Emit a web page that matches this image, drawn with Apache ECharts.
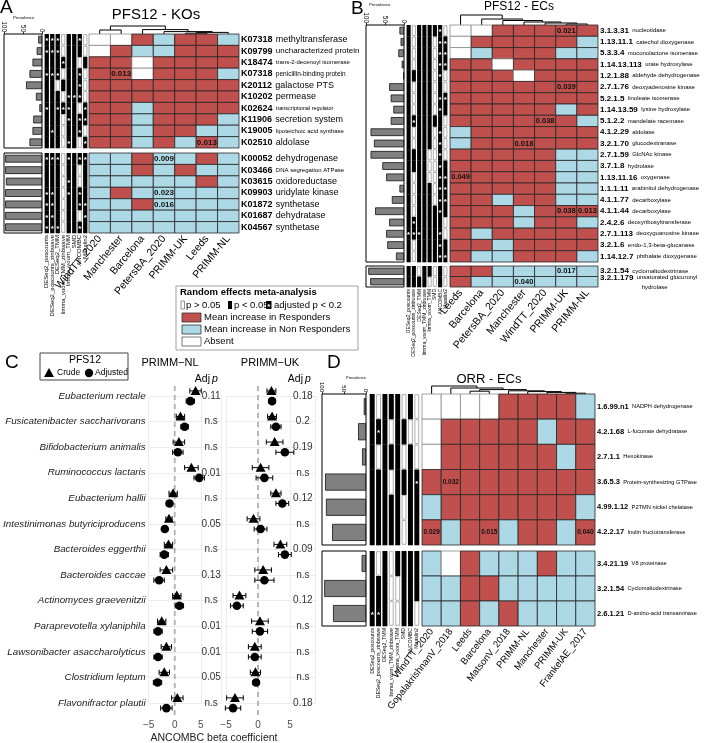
<!DOCTYPE html>
<html><head><meta charset="utf-8">
<script src="https://cdn.jsdelivr.net/npm/echarts@6/dist/echarts.min.js"></script>
<style>html,body{margin:0;padding:0;background:#fff}#c{width:706px;height:743px}</style>
</head><body><div id="c"></div>
<script>
// ===================== DATA =====================
const methods = ['DESeq2_poscounts','DESeq2_poscounts_zinbwave','DESeq2_TMM','limma_voom_TMM_zinbwave','limma_voom_TMM','SMD','ANCOMBC','Maaslin2'];

// ---- Panel A : PFS12 - KOs ----
const A_cols = ['WindTT_2020','Manchester','Barcelona','PetersBA_2020','PRIMM-UK','Leeds','PRIMM-NL'];
const A_ids_top = ['K07318','K09799','K18474','K07318','K20112','K10202','K02624','K11906','K19005','K02510'];
const A_names_top = ['methyltransferase','uncharacterized protein','trans-2-decenoyl isomerase','penicillin-binding protein','galactose PTS','permease','transcriptional regulator','secretion system','lipoteichoic acid synthase','aldolase'];
const A_ids_bot = ['K00052','K03466','K03615','K09903','K01872','K01687','K04567'];
const A_names_bot = ['dehydrogenase','DNA segregation ATPase','oxidoreductase','uridylate kinase','synthetase','dehydratase','synthetase'];
const A_cells_top = ['WWRBRRB','WRBBRRR','RRWRRRR','RRWRRRB','RRRRRRR','RRRRRRR','RRBRRRR','RRBRRRB','RRBRRBB','RRBRBRB'];
const A_cells_bot = ['BBRBBRB','BBRBRBB','BBBBBRB','BRBBBBB','BBRBBBB','BBBBBBB','BBBBBBB'];
const A_p_top = [[3,1,'0.013'],[9,5,'0.013']];
const A_p_bot = [[0,3,'0.009'],[3,3,'0.023'],[4,3,'0.016']];
const A_prev_top = [10,14,25,33,42,16,7,23,25,33];
const A_prev_bot = [97,97,95,97,97,97,97];
const A_meth_top = ['22201120','22201110','11121101','22201120','11011120','11102220','21222102','11102122','12101120','11102102'];
const A_meth_bot = ['22202122','11101101','11102101','22102121','22101122','22101102','22201121'];
const A_dendro = [[-5,-6,0.1],[-7,1,0.2],[-4,2,0.3],[-1,-2,0.5],[-3,3,0.55],[4,5,1.0]];

// ---- Panel B : PFS12 - ECs ----
const B_cols = ['Leeds','Barcelona','PetersBA_2020','Manchester','WindTT_2020','PRIMM-UK','PRIMM-NL'];
const B_ids_top = ['3.1.3.31','1.13.11.1','5.3.3.4','1.14.13.113','1.2.1.88','2.7.1.76','5.2.1.5','1.14.13.59','5.1.2.2','4.1.2.29','3.2.1.70','2.7.1.59','3.7.1.8','1.13.11.16','1.1.1.11','4.1.1.77','4.1.1.44','2.4.2.6','2.7.1.113','3.2.1.6','1.14.12.7'];
const B_names_top = ['nucleotidase','catechol dioxygenase','muconolactone isomerase','urate hydroxylase','aldehyde dehydrogenase','deoxyadenosine kinase','linoleate isomerase','lysine hydroxylase','mandelate racemase','aldolase','glucodextranase','GlcNAc kinase','hydrolase','oxygenase','arabinitol dehydrogenase','decarboxylase','decarboxylase','deoxyribosyltransferase','deoxyguanosine kinase','endo-1,3-beta-glucanase','phthalate dioxygenase'];
const B_ids_bot = ['3.2.1.54','3.2.1.179'];
const B_names_bot = ['cyclomaltodextrinase','unsaturated glucuronyl\nhydrolase'];
const B_cells_top = ['WWRRRRR','WRRRRRB','WBRRRBB','RRWRRRR','RRRWRRR','RRRRRRR','RRRRRRR','RRRRRBR','RRRRRRB','BRRRRRR','BRRRRRR','RRRRRBB','RRRRRBB','RRRRRBB','RRRRRBB','RRBRRBB','RRRBRRR','RRRBRRB','RBRRRRR','RRBRRRR','RBBRRRB'];
const B_cells_bot = ['RRBBBBB','RBBBBBB'];
const B_p_top = [[0,5,'0.021'],[5,5,'0.039'],[8,4,'0.038'],[10,3,'0.018'],[13,0,'0.049'],[16,5,'0.038'],[16,6,'0.013']];
const B_p_bot = [[0,5,'0.017'],[1,3,'0.040']];
const B_prev_top = [12,9,15,6,2,39,35,28,35,88,79,88,57,47,12,32,76,39,47,44,21];
const B_prev_bot = [94,89];
const B_meth_top = ['10111120','10111022','10111022','10111022','11111020','10111010','10111022','10111021','12111110','10111020','10111020','11110020','11110021','10110022','10111022','10111022','10111121','12111110','22211120','10111121','10111122'];
const B_meth_bot = ['11011010','11110010'];
const B_dendro = [[-6,-7,0.1],[-5,1,0.2],[-4,2,0.3],[-3,3,0.45],[-2,4,0.6],[-1,5,1.0]];

// ---- Panel D : ORR - ECs ----
const D_cols = ['WindTT_2020','GopalakrishnanV_2018','Leeds','Barcelona','MatsonV_2018','PRIMM-NL','Manchester','PRIMM-UK','FrankelAE_2017'];
const D_ids_top = ['1.6.99.n1','4.2.1.68','2.7.1.1','3.6.5.3','4.99.1.12','4.2.2.17'];
const D_names_top = ['NADPH dehydrogenase','L-fuconate dehydratase','Hexokinase','Protein-synthesizing GTPase','P2TMN nickel chelatase','Inulin fructotransferase'];
const D_ids_bot = ['3.4.21.19','3.2.1.54','2.6.1.21'];
const D_names_bot = ['V8 proteinase','Cyclomaltodextrinase','D-amino-acid transaminase'];
const D_cells_top = ['WWWWRRRRB','WRRRRRBRR','WRRRRRRBR','RRRRRRRRR','BRRRRRRRB','RBRRBRRBR'];
const D_cells_bot = ['BWRBBBRBB','BBRRBBBBB','BBRBRBBBB'];
const D_p_top = [[3,1,'0.032'],[5,0,'0.029'],[5,3,'0.015'],[5,8,'0.040']];
const D_p_bot = [];
const D_prev_top = [5,18,9,93,91,77];
const D_prev_bot = [10,95,75];
const D_meth_top = ['10111010','12101100','10111010','11101112','11111011','11111011'];
const D_meth_bot = ['10101111','11100111','22100110'];
const D_dendro = [[-8,-9,0.1],[-7,1,0.2],[-6,2,0.3],[-5,3,0.4],[-3,-4,0.35],[5,4,0.55],[-2,6,0.75],[-1,7,1.0]];

// ---- Panel C : forest plots ----
const species = ['Eubacterium rectale','Fusicatenibacter saccharivorans','Bifidobacterium animalis','Ruminococcus lactaris','Eubacterium hallii','Intestinimonas butyriciproducens','Bacteroides eggerthii','Bacteroides caccae','Actinomyces graevenitzii','Paraprevotella xylaniphila','Lawsonibacter asaccharolyticus','Clostridium leptum','Flavonifractor plautii'];
const NL_crude     = [4.0, 1.1, 0.8, 3.2,-0.3,-1.1,-1.2,-1.6, 0.4,-2.5,-1.6,-2.0, 0.5];
const NL_crude_err = [1.1, 0.8, 1.1, 1.3, 0.8, 0.6, 0.8, 1.2, 0.8, 0.8, 1.0, 1.0, 1.1];
const NL_adj       = [3.0, 1.9, 0.6, 4.7,-1.0,-1.9,-2.0,-3.0, 0.9,-3.2,-3.2,-3.3,-1.6];
const NL_adj_err   = [0.8, 0.7, 1.0, 1.0, 0.6, 0.5, 0.8, 1.0, 0.8, 0.8, 0.8, 0.8, 1.1];
const UK_crude     = [2.1, 2.2, 2.6, 0.4, 2.8,-0.7, 3.5, 0.8,-2.9, 0.3,-0.5,-0.4,-3.6];
const UK_crude_err = [0.7, 0.7, 1.3, 1.3, 0.8, 1.0, 1.0, 1.3, 1.0, 1.3, 1.0, 0.8, 1.3];
const UK_adj       = [2.2, 2.8, 4.2, 1.0, 3.8, 0.4, 4.2, 1.0,-3.3, 0.3,-0.5,-0.3,-3.9];
const UK_adj_err   = [0.5, 0.8, 1.4, 1.3, 1.0, 1.0, 1.0, 1.5, 1.0, 1.2, 1.0, 0.5, 1.2];
const NL_p = ['0.11','n.s','n.s','0.01','n.s','0.05','n.s','0.13','n.s','0.01','0.01','0.05','n.s'];
const UK_p = ['0.18','0.2','0.19','n.s','0.12','n.s','0.09','n.s','0.12','n.s','n.s','n.s','0.18'];

// ===================== STYLE =====================
const FONT = '"Liberation Sans", Arial, Helvetica, sans-serif';
const RED = '#C0504D', BLUE = '#ADD8E6', GREYBAR = '#808080';
const A_nameSize_top = [9,8,6,6.5,9,9,5.5,9,6,9];
const A_nameSize_bot = [9,6,9,9,9,9,9];
const PTEXT_X = 7;

const grids = [], xAxes = [], yAxes = [], series = [], graphics = [];
function addGrid(rect, xa, ya, extra) {
  const i = grids.length;
  grids.push(Object.assign({left: rect[0], top: rect[1], width: rect[2], height: rect[3], containLabel: false}, extra || {}));
  xAxes.push(Object.assign({gridIndex: i}, xa));
  yAxes.push(Object.assign({gridIndex: i}, ya));
  return i;
}
function hiddenCat(n, inverse) {
  return {type:'category', data: Array.from({length:n}, (_, i) => String(i)), inverse: !!inverse,
    axisLine:{show:false}, axisTick:{show:false}, axisLabel:{show:false}, splitLine:{show:false}};
}
function rk(s) { return 'n' + String(s).replace('.', '_'); }

function heatBlock(rect, cols, ids, names, cells, pvals, st, nameSizes) {
  const n = cells.length;
  const rich = {id:{fontWeight:'bold', fontSize: st.idFont, fontFamily: FONT, color:'#000'}};
  nameSizes.forEach(s => { rich[rk(s)] = {fontSize: s, fontFamily: FONT, color:'#000', lineHeight: s + 2}; });
  const xa = hiddenCat(cols.length);
  if (st.colLabels) {
    xa.data = cols;
    xa.axisLabel = {show:true, interval:0, rotate: st.rot, fontSize: st.colFont, color:'#000', margin:4, fontFamily: FONT};
  }
  const ya = hiddenCat(n, true);
  ya.position = 'right';
  ya.axisLabel = {show:true, interval:0, margin:2, fontFamily: FONT, color:'#000', rich,
    formatter: (v) => { const i = Number(v); const key = rk(nameSizes[i]);
      const parts = names[i].split('\n');
      let s = '{id|' + ids[i] + '} {' + key + '|' + parts[0] + '}';
      for (let k = 1; k < parts.length; k++) s += '\n{' + key + '|                         ' + parts[k] + '}';
      return s; }};
  const gi = addGrid(rect, xa, ya);
  const data = [], labs = [];
  cells.forEach((row, r) => row.split('').forEach((c, k) => {
    data.push([k, r, 'WRB'.indexOf(c)]);
    const p = pvals.find(q => q[0] === r && q[1] === k);
    labs.push(p ? p[2] : '');
  }));
  series.push({type:'custom', xAxisIndex: gi, yAxisIndex: gi, silent: true, animation: false, data,
    renderItem: (params, api) => {
      const c = api.coord([api.value(0), api.value(1)]), s = api.size([1, 1]);
      const code = api.value(2);
      const ch = [{type:'rect', shape:{x: c[0] - s[0] / 2, y: c[1] - s[1] / 2, width: s[0], height: s[1]},
        style:{fill: ['#ffffff', RED, BLUE][code], stroke: code === 0 ? '#8a8a8a' : '#262626', lineWidth: 0.8}}];
      const lab = labs[params.dataIndex];
      if (lab) ch.push({type:'text', style:{text: lab, x: c[0], y: c[1], align:'center', verticalAlign:'middle',
        textAlign:'center', textVerticalAlign:'middle', font: 'bold ' + st.pFont + 'px ' + FONT, fill:'#111'}});
      return {type:'group', children: ch};
    }});
}

function methodBlock(rect, rows, showLabels, mFont) {
  const xa = hiddenCat(methods.length);
  if (showLabels) { xa.data = methods; xa.axisLabel = {show:true, interval:0, rotate:90, fontSize: mFont, margin:2, color:'#000', fontFamily: FONT}; }
  const gi = addGrid(rect, xa, hiddenCat(rows.length, true));
  const data = [];
  rows.forEach((row, r) => row.split('').forEach((c, k) => data.push([k, r, Number(c)])));
  series.push({type:'custom', xAxisIndex: gi, yAxisIndex: gi, silent: true, animation: false, data,
    renderItem: (params, api) => {
      const c = api.coord([api.value(0), api.value(1)]), s = api.size([1, 1]), v = api.value(2);
      if (v === 0) return {type:'rect', shape:{x: c[0] - s[0] * 0.3, y: c[1] - s[1] / 2 + 0.7, width: s[0] * 0.6, height: s[1] - 1.4},
        style:{fill:'#fff', stroke:'#9a9a9a', lineWidth: 0.8}};
      const ch = [{type:'rect', shape:{x: c[0] - s[0] * 0.39, y: c[1] - s[1] / 2, width: s[0] * 0.78, height: s[1] + 0.3}, style:{fill:'#000'}}];
      if (v === 2) ch.push({type:'text', style:{text:'*', x: c[0], y: c[1] + 1.5, align:'center', verticalAlign:'middle',
        textAlign:'center', textVerticalAlign:'middle', font:'bold 8px ' + FONT, fill:'#fff'}});
      return {type:'group', children: ch};
    }});
}

function prevBlock(rect, vals, showAxis, tickFont) {
  const gi = addGrid(rect, {
      type:'value', min:0, max:100, interval:50, inverse:true, position:'top',
      axisLine:{show:false}, splitLine:{show:false},
      axisTick:{show: showAxis, length:2, lineStyle:{color:'#000', width:0.8}},
      axisLabel:{show: showAxis, rotate:90, fontSize: tickFont, margin:2, color:'#000', fontFamily: FONT}
    }, hiddenCat(vals.length, true), {show:true, borderColor:'#000', borderWidth:1, backgroundColor:'#fff'});
  series.push({type:'bar', xAxisIndex: gi, yAxisIndex: gi, data: vals, barWidth:'68%', silent: true, animation: false,
    itemStyle:{color: GREYBAR, borderColor:'#111', borderWidth: 0.8}});
}

function dendroData(merges) {
  const pos = [], ht = [], out = [];
  merges.forEach((m, i) => {
    const get = k => k < 0 ? [-k - 1, 0] : [pos[k - 1], ht[k - 1]];
    const a = get(m[0]), b = get(m[1]);
    pos[i] = (a[0] + b[0]) / 2; ht[i] = m[2];
    out.push([a[0], a[1], b[0], b[1], m[2]]);
  });
  return out;
}
function dendroBlock(rect, n, merges) {
  const gi = addGrid(rect, {type:'value', min:-0.5, max: n - 0.5, show:false}, {type:'value', min:0, max:1, show:false});
  series.push({type:'custom', xAxisIndex: gi, yAxisIndex: gi, silent: true, animation: false, data: dendroData(merges),
    renderItem: (p, api) => {
      const a = api.coord([api.value(0), api.value(1)]), a2 = api.coord([api.value(0), api.value(4)]);
      const b2 = api.coord([api.value(2), api.value(4)]), b = api.coord([api.value(2), api.value(3)]);
      return {type:'polyline', shape:{points:[a, a2, b2, b]}, style:{stroke:'#000', lineWidth:1, fill:null}};
    }});
}

function forestBlock(rect, crude, crudeErr, adj, adjErr, pv, showNames) {
  const gi = addGrid(rect,
    {type:'value', min:-5, max:9, interval:5, axisLine:{show:false}, axisTick:{show:false},
     axisLabel:{fontSize:10, color:'#4d4d4d', margin:17, fontFamily: FONT, showMaxLabel:false,
       formatter: v => (v % 5 === 0) ? (v < 0 ? '\u2212' + (-v) : String(v)) : ''},
     splitLine:{show:true, lineStyle:{color:'#e8e8e8', width:0.8}}},
    {type:'category', data: species, inverse:true, boundaryGap:false, axisLine:{show:false}, axisTick:{show:false},
     axisLabel:{show: showNames, interval:0, fontSize:9.8, fontStyle:'italic', color:'#1a1a1a', margin:3, fontFamily: FONT},
     splitLine:{show:true, lineStyle:{color:'#e8e8e8', width:0.8}}});
  // zero reference line
  series.push({type:'custom', xAxisIndex: gi, yAxisIndex: gi, silent: true, animation: false, data: [[0, 0]],
    renderItem: (p, api) => {
      const x = api.coord([0, 0])[0], cs = p.coordSys;
      return {type:'line', shape:{x1: x, y1: cs.y - 10, x2: x, y2: cs.y + cs.height + 12},
        style:{stroke:'#b0b0b0', lineWidth:1.8, lineDash:[5, 4]}};
    }});
  const data = [];
  species.forEach((_, i) => { data.push([crude[i], i, crudeErr[i], 0]); data.push([adj[i], i, adjErr[i], 1]); });
  series.push({type:'custom', xAxisIndex: gi, yAxisIndex: gi, silent: true, animation: false, data,
    renderItem: (p, api) => {
      const est = api.value(0), i = api.value(1), e = api.value(2), t = api.value(3);
      const band = api.size([0, 1])[1];
      const c = api.coord([est, i]), lo = api.coord([est - e, i]), hi = api.coord([est + e, i]);
      const y = c[1] + (t === 0 ? -0.2 : 0.2) * band;
      const ls = {stroke:'#000', lineWidth:1};
      const ch = [
        {type:'line', shape:{x1: lo[0], y1: y, x2: hi[0], y2: y}, style: ls},
        {type:'line', shape:{x1: lo[0], y1: y - 2.6, x2: lo[0], y2: y + 2.6}, style: ls},
        {type:'line', shape:{x1: hi[0], y1: y - 2.6, x2: hi[0], y2: y + 2.6}, style: ls}];
      if (t === 0) ch.push({type:'polygon', shape:{points:[[c[0], y - 5], [c[0] - 5, y + 4], [c[0] + 5, y + 4]]}, style:{fill:'#000'}});
      else ch.push({type:'circle', shape:{cx: c[0], cy: y, r: 4.3}, style:{fill:'#000'}});
      return {type:'group', children: ch};
    }});
  series.push({type:'custom', xAxisIndex: gi, yAxisIndex: gi, silent: true, animation: false,
    data: pv.map((s, i) => [PTEXT_X, i]),
    renderItem: (p, api) => {
      const c = api.coord([api.value(0), api.value(1)]);
      return {type:'text', style:{text: pv[p.dataIndex], x: c[0], y: c[1], align:'center', verticalAlign:'middle',
        textAlign:'center', textVerticalAlign:'middle', font:'10px ' + FONT, fill:'#333'}};
    }});
}

function txt(t, x, y, size, o) {
  o = o || {};
  return {type:'text', x, y, silent:true, style:{text: t, font: (o.italic ? 'italic ' : '') + (o.bold ? 'bold ' : '') + size + 'px ' + FONT,
    fill: o.fill || '#000', align: o.align || 'left', verticalAlign: o.va || 'top', textAlign: o.align || 'left', textVerticalAlign: o.va || 'top'}};
}
function box(x, y, w, h, fill, stroke, lw) {
  return {type:'rect', silent:true, shape:{x, y, width:w, height:h}, style:{fill, stroke: stroke || null, lineWidth: lw || 1}};
}

// ===================== PANEL A =====================
const stA = {idFont:9, pFont:8, colFont:10.5, rot:50};
dendroBlock([89, 26, 150, 8], A_cols.length, A_dendro);
heatBlock([89, 34, 150, 114], A_cols, A_ids_top, A_names_top, A_cells_top, A_p_top, Object.assign({colLabels:false}, stA), A_nameSize_top);
heatBlock([89, 153, 150, 80], A_cols, A_ids_bot, A_names_bot, A_cells_bot, A_p_bot, Object.assign({colLabels:true}, stA), A_nameSize_bot);
methodBlock([44, 34, 44, 114], A_meth_top, false);
methodBlock([44, 153, 44, 80], A_meth_bot, true, 6);
prevBlock([4, 34, 38, 114], A_prev_top, true, 6.5);
prevBlock([4, 153, 38, 80], A_prev_bot, false, 6.5);

// ===================== PANEL B =====================
const stB = {idFont:8, pFont:7.5, colFont:10.5, rot:50};
dendroBlock([450, 15, 148, 10], B_cols.length, B_dendro);
heatBlock([450, 25, 148, 237], B_cols, B_ids_top, B_names_top, B_cells_top, B_p_top, Object.assign({colLabels:false}, stB), B_names_top.map(() => 6));
heatBlock([450, 266, 148, 21], B_cols, B_ids_bot, B_names_bot, B_cells_bot, B_p_bot, Object.assign({colLabels:true}, stB), B_names_bot.map(() => 6));
methodBlock([406, 25, 42, 237], B_meth_top, false);
methodBlock([406, 266, 42, 21], B_meth_bot, true, 5);
prevBlock([366, 25, 38, 237], B_prev_top, true, 6.5);
prevBlock([366, 266, 38, 21], B_prev_bot, false, 6.5);

// ===================== PANEL D =====================
const stD = {idFont:7.5, pFont:6.5, colFont:9.5, rot:52};
dendroBlock([422, 386, 173, 8], D_cols.length, D_dendro);
heatBlock([422, 394, 173, 151], D_cols, D_ids_top, D_names_top, D_cells_top, D_p_top, Object.assign({colLabels:false}, stD), D_names_top.map(() => 5.7));
heatBlock([422, 551, 173, 75], D_cols, D_ids_bot, D_names_bot, D_cells_bot, D_p_bot, Object.assign({colLabels:true}, stD), D_names_bot.map(() => 5.7));
methodBlock([369, 394, 51, 151], D_meth_top, false);
methodBlock([369, 551, 51, 75], D_meth_bot, true, 5.2);
prevBlock([322, 394, 44, 151], D_prev_top, true, 6);
prevBlock([322, 551, 44, 75], D_prev_bot, false, 6);

// ===================== PANEL C =====================
forestBlock([132, 396, 89.6, 307], NL_crude, NL_crude_err, NL_adj, NL_adj_err, NL_p, true);
forestBlock([226, 396, 89.6, 307], UK_crude, UK_crude_err, UK_adj, UK_adj_err, UK_p, false);

// ===================== TEXT / LEGENDS =====================
graphics.push(txt('A', 0, -2, 19));
graphics.push(txt('PFS12 - KOs', 156, 7, 15, {align:'center'}));
graphics.push(txt('Prevalence', 13, 16, 4.3));
graphics.push(txt('B', 351, -1, 19));
graphics.push(txt('PFS12 - ECs', 519, 1, 12, {align:'center'}));
graphics.push(txt('Prevalence', 369, 3, 4.3));
graphics.push(txt('C', 5, 353, 19));
graphics.push(txt('D', 327, 353, 19));
graphics.push(txt('ORR - ECs', 489, 373, 13, {align:'center'}));
graphics.push(txt('Prevalence', 346, 376, 4));
graphics.push(txt('PRIMM\u2212NL', 170, 363, 11, {align:'center', va:'middle'}));
graphics.push(txt('PRIMM\u2212UK', 270, 363, 11, {align:'center', va:'middle'}));
graphics.push(txt('Adj', 210, 379, 10.5, {va:'middle', align:'right'}));
graphics.push(txt('p', 212, 379, 10.5, {va:'middle', italic:true}));
graphics.push(txt('Adj', 303, 379, 10.5, {va:'middle', align:'right'}));
graphics.push(txt('p', 305, 379, 10.5, {va:'middle', italic:true}));
graphics.push(txt('ANCOMBC beta coefficient', 214, 733, 10.5, {align:'center', fill:'#222'}));

// legend of panel C
graphics.push(box(40, 353, 88, 27, '#fff', '#444', 1));
graphics.push(txt('PFS12', 85, 360, 10.5, {align:'center', va:'middle'}));
graphics.push({type:'polygon', silent:true, shape:{points:[[49, 368], [44, 377], [54, 377]]}, style:{fill:'#000'}});
graphics.push(txt('Crude', 57, 373, 8.5, {va:'middle'}));
graphics.push({type:'circle', silent:true, shape:{cx:89, cy:373, r:4.2}, style:{fill:'#000'}});
graphics.push(txt('Adjusted', 95, 373, 8.5, {va:'middle'}));

// legend of random-effects meta-analysis
graphics.push(box(176, 286, 182, 64, '#fff', '#a0a0a0', 1));
graphics.push(txt('Random effects meta-analysis', 180, 292, 9.5, {bold:true, va:'middle'}));
graphics.push(box(181, 301, 3.5, 8, '#fff', '#777', 0.8));
graphics.push(txt('p > 0.05', 186, 305, 9.5, {va:'middle'}));
graphics.push(box(228, 301, 4, 8, '#000'));
graphics.push(txt('p < 0.05', 234, 305, 9.5, {va:'middle'}));
graphics.push(box(266, 301, 5.5, 8, '#000'));
graphics.push(txt('*', 268.7, 306.5, 8, {align:'center', va:'middle', fill:'#fff', bold:true}));
graphics.push(txt('adjusted p < 0.2', 274, 305, 9.5, {va:'middle'}));
graphics.push(box(182, 313, 19, 9, RED, '#333', 0.8));
graphics.push(txt('Mean increase in Responders', 204, 317.5, 9.5, {va:'middle'}));
graphics.push(box(182, 325, 19, 9, BLUE, '#333', 0.8));
graphics.push(txt('Mean increase in Non Responders', 204, 329.5, 9.5, {va:'middle'}));
graphics.push(box(182, 337, 19, 9, '#fff', '#555', 0.8));
graphics.push(txt('Absent', 204, 341.5, 9.5, {va:'middle'}));

const chart = echarts.init(document.getElementById('c'), null, {renderer:'canvas'});
chart.setOption({animation:false, backgroundColor:'#fff', textStyle:{fontFamily: FONT},
  grid: grids, xAxis: xAxes, yAxis: yAxes, series, graphic: graphics});
</script>
</body></html>
